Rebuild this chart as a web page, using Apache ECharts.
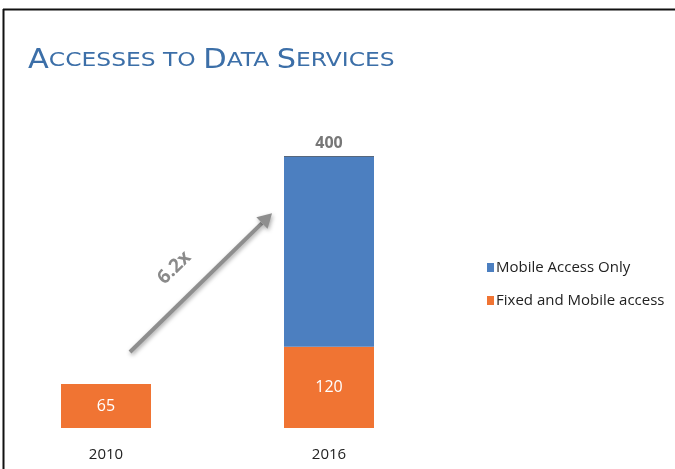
<!DOCTYPE html>
<html><head><meta charset="utf-8">
<script src="https://cdn.jsdelivr.net/npm/echarts@6/dist/echarts.min.js"></script>
<style>html,body{margin:0;padding:0;background:#fff}#c{width:675px;height:469px}</style>
</head><body><div id="c"></div>
<script>
const categories = ['2010', '2016'];
const fixedMobile = [65, 120];
const mobileOnly = [null, 280];
const totals = [65, 400];
const growthLabel = '6.2x';
const titleText = '{b|A}{s|CCESSES TO }{b|D}{s|ATA }{b|S}{s|ERVICES}';

const chart = echarts.init(document.getElementById('c'));
const FONT = '"Open Sans", sans-serif';
chart.setOption({
  animation: false,
  backgroundColor: '#fff',
  legend: {
    left: 482, top: 255, orient: 'vertical', itemWidth: 7, itemHeight: 9, itemGap: 18,
    icon: 'rect',
    data: ['Mobile Access Only', 'Fixed and Mobile access'],
    textStyle: { fontFamily: FONT, fontSize: 15, color: '#222', padding: [0, 0, 0, -3] }
  },
  grid: { left: 106, right: 346, top: 157, bottom: 41 },
  xAxis: {
    type: 'category', data: categories, boundaryGap: false,
    axisLine: { show: false }, axisTick: { show: false },
    axisLabel: { margin: 19, fontFamily: FONT, fontSize: 15, color: '#222' }
  },
  yAxis: { type: 'value', min: 0, max: 400, show: false, splitLine: { show: false } },
  series: [
    {
      name: 'Fixed and Mobile access', type: 'bar', stack: 'a', data: fixedMobile,
      barWidth: 90, clip: false, itemStyle: { color: '#f07433' },
      label: { show: true, position: 'inside', color: '#fff', fontFamily: FONT, fontSize: 16 }
    },
    {
      name: 'Mobile Access Only', type: 'bar', stack: 'a', data: mobileOnly,
      barWidth: 90, clip: false, itemStyle: { color: '#4c7fc0' },
      label: {
        show: true, position: 'top', distance: 6, color: '#777', fontWeight: 'bold',
        fontFamily: FONT, fontSize: 16,
        formatter: p => totals[p.dataIndex]
      }
    }
  ]
});

function drawExtras() {
  const a = chart.convertToPixel({ gridIndex: 0 }, [categories[0], totals[0]]);
  const b = chart.convertToPixel({ gridIndex: 0 }, [categories[1], mobileOnly[1]]);
  const top = chart.convertToPixel({ gridIndex: 0 }, [categories[1], totals[1]]);
  const sx = a[0] + 24, sy = a[1] - 32;
  const tx = b[0] - 57, ty = b[1] - 25;
  const ang = Math.atan2(ty - sy, tx - sx);
  const L = 14, W = 8;
  const bx = tx - L * Math.cos(ang), by = ty - L * Math.sin(ang);
  const nx = -Math.sin(ang), ny = Math.cos(ang);
  const mx = (sx + tx) / 2, my = (sy + ty) / 2;
  const shadow = { shadowBlur: 4, shadowColor: 'rgba(0,0,0,0.35)', shadowOffsetX: 1, shadowOffsetY: 2 };
  chart.setOption({
    graphic: [
      {
        type: 'text', x: 28, y: 61, scaleX: 1.17,
        style: {
          text: titleText, verticalAlign: 'middle',
          rich: {
            b: { fontFamily: 'DejaVu Sans', fontSize: 26, fill: '#3c6fa8' },
            s: { fontFamily: 'DejaVu Sans', fontSize: 20, fill: '#3c6fa8' }
          }
        }
      },
      { type: 'line', shape: { x1: 3, y1: 9.5, x2: 675, y2: 9.5 }, style: { stroke: '#111', lineWidth: 2 } },
      { type: 'line', shape: { x1: 3.5, y1: 9, x2: 3.5, y2: 469 }, style: { stroke: '#111', lineWidth: 2 } },
      { type: 'line', shape: { x1: top[0] - 45, y1: top[1], x2: top[0] + 45, y2: top[1] }, style: { stroke: '#1f3550', lineWidth: 1.5 } },
      { type: 'line', shape: { x1: sx, y1: sy, x2: bx, y2: by }, style: Object.assign({ stroke: '#8e8e8e', lineWidth: 4 }, shadow) },
      { type: 'polygon', shape: { points: [[tx, ty], [bx + nx * W, by + ny * W], [bx - nx * W, by - ny * W]] }, style: Object.assign({ fill: '#8e8e8e' }, shadow) },
      {
        type: 'text', x: mx - 20, y: my - 8, rotation: -ang,
        style: { text: growthLabel, fill: '#8a8a8a', font: 'bold 19px "Open Sans", sans-serif', align: 'center', verticalAlign: 'bottom' }
      }
    ]
  });
}
drawExtras();
</script></body></html>
